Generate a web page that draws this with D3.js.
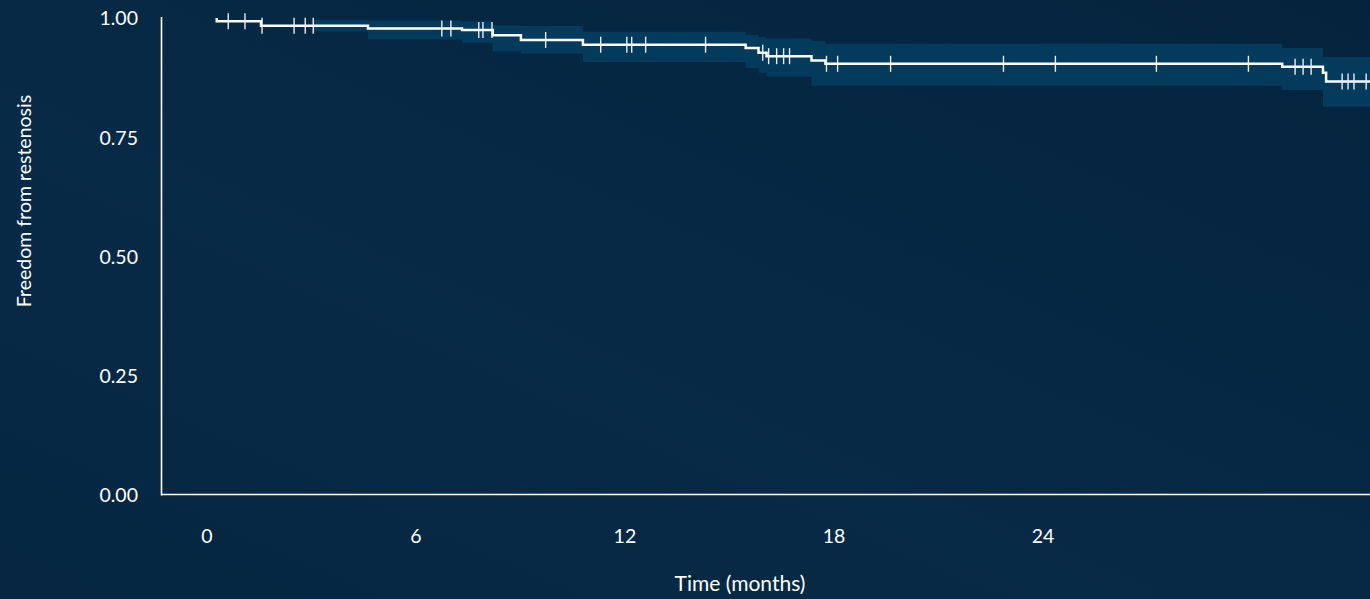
<!DOCTYPE html>
<html>
<head>
<meta charset="utf-8">
<script src="https://cdn.jsdelivr.net/npm/d3@7"></script>
<style>
  html, body { margin: 0; padding: 0; background: #062640; }
  svg { display: block; }
</style>
</head>
<body>
<svg id="chart" width="1370" height="599"></svg>
<script>
// Kaplan–Meier estimate: event times (months) and survival after each event
const eventTimes = [0.30, 1.57, 4.64, 7.34, 8.22, 9.03, 10.81, 15.48, 15.85, 16.08, 17.37, 17.77, 30.88, 32.05, 32.14];
const survival   = [0.993, 0.984, 0.978, 0.975, 0.964, 0.954, 0.944, 0.937, 0.927, 0.920, 0.911, 0.904, 0.898, 0.885, 0.867];
const followUpEnd = 33.4;

// 95% confidence band (step function)
const ciTimes = [3.07, 4.64, 7.34, 8.22, 9.03, 10.81, 15.48, 15.85, 16.08, 17.37, 17.77, 30.88, 32.05];
const ciLower = [0.972, 0.955, 0.948, 0.930, 0.925, 0.908, 0.895, 0.885, 0.877, 0.858, 0.858, 0.849, 0.814];
const ciUpper = [0.996, 0.995, 0.993, 0.985, 0.983, 0.971, 0.965, 0.960, 0.957, 0.952, 0.946, 0.937, 0.918];

// Censored observations (months)
const censorTimes = [0.63, 1.11, 1.60, 2.52, 2.84, 3.07, 6.76, 7.02, 7.82, 7.94, 8.20, 9.74, 11.32, 12.07, 12.21, 12.61,
  14.33, 15.97, 16.14, 16.37, 16.57, 16.74, 17.80, 18.12, 19.64, 22.88, 24.37, 27.27, 29.91, 31.25, 31.48, 31.71,
  32.60, 32.77, 32.94, 33.29];

const xTicks = [0, 6, 12, 18, 24];
const yTicks = [0, 0.25, 0.5, 0.75, 1.0];

const svg = d3.select("#chart");
const W = 1370, H = 599;
const FONT = "Lato, 'Open Sans', sans-serif";

// background
const defs = svg.append("defs");
const bg = defs.append("linearGradient").attr("id", "bg")
  .attr("x1", "0").attr("y1", "1").attr("x2", "1").attr("y2", "0");
bg.append("stop").attr("offset", "0%").attr("stop-color", "#062641");
bg.append("stop").attr("offset", "40%").attr("stop-color", "#072a46");
bg.append("stop").attr("offset", "100%").attr("stop-color", "#05233d");
svg.append("rect").attr("width", W).attr("height", H).attr("fill", "url(#bg)");

const x = d3.scaleLinear().domain([-1.3, followUpEnd]).range([161, 1370]);
const y = d3.scaleLinear().domain([0, 1]).range([495, 18]);

// survival value at time t
function survAt(t) {
  let s = 1;
  for (let i = 0; i < eventTimes.length; i++) if (eventTimes[i] <= t) s = survival[i];
  return s;
}

// confidence band
const bandPts = ciTimes.map((t, i) => ({ t, lo: ciLower[i], hi: ciUpper[i] }));
bandPts.push({ t: followUpEnd, lo: ciLower[ciLower.length - 1], hi: ciUpper[ciUpper.length - 1] });
svg.append("path")
  .datum(bandPts)
  .attr("fill", "#043a5c")
  .attr("d", d3.area().curve(d3.curveStepAfter)
    .x(d => x(d.t)).y0(d => y(d.lo)).y1(d => y(d.hi)));

// axes
const xAxis = svg.append("g").attr("transform", "translate(0,495)")
  .call(d3.axisBottom(x).tickValues(xTicks).tickSize(0).tickPadding(0).tickFormat(d3.format("d")));
xAxis.select(".domain").remove();
xAxis.selectAll("text")
  .attr("y", 41).attr("dy", "0.35em")
  .attr("fill", "#ffffff").style("font-family", FONT).style("font-size", "19.5px");

const yAxis = svg.append("g").attr("transform", "translate(161,0)")
  .call(d3.axisLeft(y).tickValues(yTicks).tickSize(0).tickPadding(23).tickFormat(d3.format(".2f")));
yAxis.select(".domain").remove();
yAxis.selectAll("text")
  .attr("dy", "0.35em")
  .attr("fill", "#ffffff").style("font-family", FONT).style("font-size", "19.5px");

// axis lines
svg.append("line").attr("x1", 161.5).attr("x2", 161.5).attr("y1", 17).attr("y2", 495.5)
  .attr("stroke", "#ffffff").attr("stroke-width", 1.6);
svg.append("line").attr("x1", 161).attr("x2", W).attr("y1", 494.5).attr("y2", 494.5)
  .attr("stroke", "#ffffff").attr("stroke-width", 1.6);

// survival curve
const curvePts = [{ t: eventTimes[0], s: 1 }]
  .concat(eventTimes.map((t, i) => ({ t, s: survival[i] })))
  .concat([{ t: followUpEnd, s: survival[survival.length - 1] }]);
svg.append("path")
  .datum(curvePts)
  .attr("fill", "none")
  .attr("stroke", "#ffffff")
  .attr("stroke-width", 2.5)
  .attr("d", d3.line().curve(d3.curveStepAfter).x(d => x(d.t)).y(d => y(d.s)));

// censor marks
svg.append("g").selectAll("line")
  .data(censorTimes)
  .join("line")
  .attr("x1", d => x(d)).attr("x2", d => x(d))
  .attr("y1", d => y(survAt(d)) - 8).attr("y2", d => y(survAt(d)) + 8)
  .attr("stroke", "#e8eef3").attr("stroke-width", 1.4);

// axis titles
svg.append("text")
  .attr("x", 740).attr("y", 584).attr("dy", "0.35em")
  .attr("text-anchor", "middle")
  .attr("fill", "#ffffff").style("font-family", FONT).style("font-size", "21px")
  .text("Time (months)");
svg.append("text")
  .attr("transform", "translate(24,201) rotate(-90)")
  .attr("dy", "0.35em")
  .attr("text-anchor", "middle")
  .attr("fill", "#ffffff").style("font-family", FONT).style("font-size", "19.5px")
  .text("Freedom from restenosis");
</script>
</body>
</html>
